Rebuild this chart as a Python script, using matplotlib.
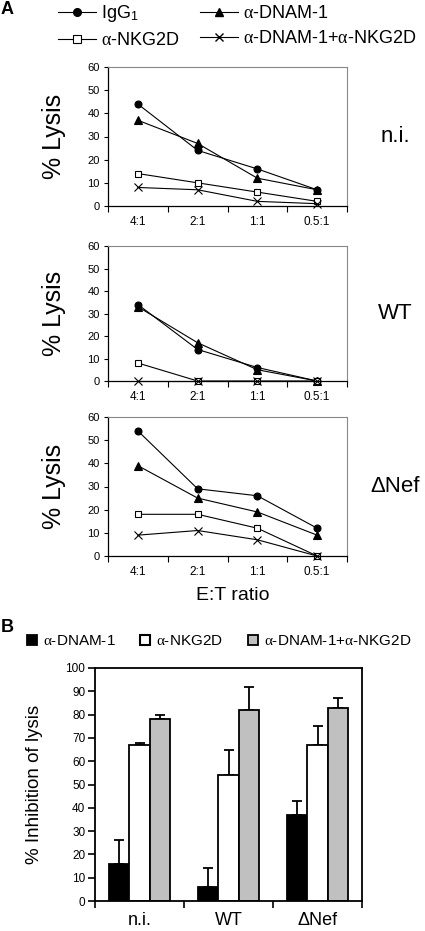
import matplotlib
matplotlib.use("Agg")
import matplotlib.pyplot as plt
from matplotlib.lines import Line2D
from matplotlib.patches import Patch
import numpy as np

plt.rcParams['font.family'] = ['Liberation Sans', 'DejaVu Sans']
plt.rcParams['mathtext.fontset'] = 'custom'
plt.rcParams['mathtext.rm'] = 'Liberation Sans'
plt.rcParams['mathtext.it'] = 'Liberation Serif'

# panel A data (% lysis)
ratios = ["4:1", "2:1", "1:1", "0.5:1"]
conditions = ["n.i.", "WT", "\u0394Nef"]
lysis_igg1 = [[44, 24, 16, 7], [34, 14, 6, 0], [54, 29, 26, 12]]
lysis_dnam = [[37, 27, 12, 7], [33, 17, 5, 0], [39, 25, 19, 9]]
lysis_nkg2d = [[14, 10, 6, 2], [8, 0, 0, 0], [18, 18, 12, 0]]
lysis_combo = [[8, 7, 2, 1], [0, 0, 0, 0], [9, 11, 7, 0]]

# panel B data (% inhibition, upper error)
groups = ["n.i.", "WT", "\u0394Nef"]
inh_dnam = [16, 6, 37]
err_dnam = [10, 8, 6]
inh_nkg2d = [67, 54, 67]
err_nkg2d = [1, 11, 8]
inh_combo = [78, 82, 83]
err_combo = [2, 10, 4]

W, H = 425, 931
fig = plt.figure(figsize=(W / 100, H / 100), dpi=100)


def box(left, top, right, bottom):
    return [left / W, 1 - bottom / H, (right - left) / W, (bottom - top) / H]


series = [
    (lysis_igg1, dict(marker='o', mfc='black', ms=5)),
    (lysis_dnam, dict(marker='^', mfc='black', ms=5.5)),
    (lysis_nkg2d, dict(marker='s', mfc='white', ms=5)),
    (lysis_combo, dict(marker='x', mfc='black', ms=5.5)),
]

panel_pos = [(67, 206), (246, 381), (417, 556)]
x = np.arange(len(ratios))
for k, (top, bottom) in enumerate(panel_pos):
    ax = fig.add_axes(box(108, top, 347, bottom))
    for vals, style in series:
        ax.plot(x, vals[k], color='black', lw=0.8, mec='black', mew=0.8,
                clip_on=False, **style)
    ax.set_xlim(-0.5, 3.5)
    ax.set_ylim(0, 60)
    ax.set_yticks(range(0, 61, 10))
    ax.set_xticks(np.arange(-0.5, 3.6, 1))
    ax.set_xticklabels([])
    ax.set_xticks(x, minor=True)
    ax.set_xticklabels(ratios, minor=True)
    ax.tick_params(axis='x', which='major', length=4, width=0.8, direction='out')
    ax.tick_params(axis='x', which='minor', length=0, pad=7, labelsize=8.5)
    ax.tick_params(axis='y', length=3, width=0.8, pad=3, labelsize=8)
    for s in ['left', 'bottom']:
        ax.spines[s].set_linewidth(0.9)
    for s in ['top', 'right']:
        ax.spines[s].set_color('#888888')
        ax.spines[s].set_linewidth(0.8)
    ax.set_ylabel("% Lysis", fontsize=18)
    ax.yaxis.set_label_coords((66 - 108) / 239, 0.5)
    fig.text(395 / W, 1 - (top + bottom) / 2 / H, conditions[k], fontsize=16,
             ha='center', va='center')

fig.text(233 / W, 1 - 595 / H, "E:T ratio", fontsize=14, ha='center', va='center')
fig.text(1 / W, 1 - 9 / H, "A", fontsize=13, fontweight='bold', va='center')

handles = [
    Line2D([], [], color='black', lw=0.8, marker='o', mfc='black', mec='black', ms=5.5),
    Line2D([], [], color='black', lw=0.8, marker='s', mfc='white', mec='black', ms=6, mew=0.8),
    Line2D([], [], color='black', lw=0.8, marker='^', mfc='black', mec='black', ms=6),
    Line2D([], [], color='black', lw=0.8, marker='x', mec='black', ms=6, mew=1),
]
labels = ["IgG$_1$", r"$\alpha$-NKG2D", r"$\alpha$-DNAM-1", r"$\alpha$-DNAM-1+$\alpha$-NKG2D"]
fig.legend(handles, labels, loc='upper left', bbox_to_anchor=(58 / W, 1 - 3 / H),
           ncol=2, frameon=False, fontsize=13, handlelength=2.1, handletextpad=0.3,
           columnspacing=1.1, labelspacing=0.45, borderpad=0, borderaxespad=0)

# panel B
bx = fig.add_axes(box(95, 668, 362, 901))
gx = np.arange(len(groups))
bw = 0.23
bar_sets = [(inh_dnam, err_dnam, 'black'), (inh_nkg2d, err_nkg2d, 'white'),
            (inh_combo, err_combo, '#c0c0c0')]
for j, (vals, errs, col) in enumerate(bar_sets):
    pos = gx + (j - 1) * bw
    bx.bar(pos, vals, bw, color=col, edgecolor='black', linewidth=1.3, zorder=2)
    bx.errorbar(pos, vals, yerr=[np.zeros(len(errs)), errs], fmt='none',
                ecolor='black', elinewidth=1.3, capsize=3.5, capthick=1.3, zorder=1)
bx.set_xlim(-0.5, 2.5)
bx.set_ylim(0, 100)
bx.set_yticks(range(0, 101, 10))
bx.set_xticks(np.arange(-0.5, 2.6, 1))
bx.set_xticklabels([])
bx.set_xticks(gx, minor=True)
bx.set_xticklabels(groups, minor=True)
bx.tick_params(axis='x', which='major', length=5, width=1.2, direction='out')
bx.tick_params(axis='x', which='minor', length=0, pad=8, labelsize=13)
bx.tick_params(axis='y', length=5, width=1.2, pad=2, labelsize=8.5)
for s in bx.spines.values():
    s.set_linewidth(1.3)
bx.set_ylabel("% Inhibition of lysis", fontsize=13.5)
bx.yaxis.set_label_coords((43 - 95) / 267, 0.5)

fig.text(1 / W, 1 - 628 / H, "B", fontsize=13, fontweight='bold', va='center')
bhandles = [Patch(facecolor='black', edgecolor='black', lw=1.3),
            Patch(facecolor='white', edgecolor='black', lw=1.5),
            Patch(facecolor='#c0c0c0', edgecolor='black', lw=1.3)]
blabels = [r"$\alpha$-DNAM-1", r"$\alpha$-NKG2D", r"$\alpha$-DNAM-1+$\alpha$-NKG2D"]
fig.legend(bhandles, blabels, loc='center left', bbox_to_anchor=(27 / W, 1 - 641 / H),
           ncol=3, frameon=False, fontsize=11, handlelength=0.65, handleheight=0.65,
           handletextpad=0.4, columnspacing=1.6, borderpad=0, borderaxespad=0)

fig.savefig("out.png", dpi=100)
